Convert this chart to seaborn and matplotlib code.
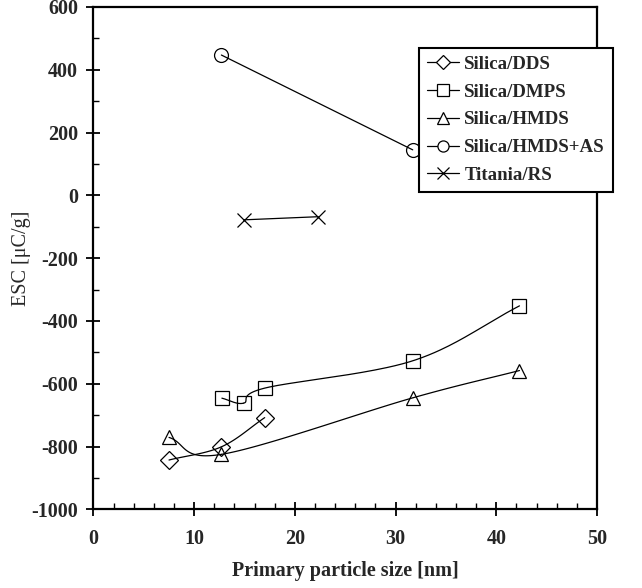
import numpy as np
import matplotlib
matplotlib.use("Agg")
import matplotlib.pyplot as plt
from matplotlib.lines import Line2D
from matplotlib.ticker import MultipleLocator
import seaborn as sns
import pandas as pd

# ---- data ----
dds_x = [7.5, 12.7, 17.0]
dds_y = [-843, -801, -708]

dmps_x = [12.75, 14.9, 17.0, 31.7, 42.3]
dmps_y = [-646, -662, -614, -527, -352]

hmds_x = [7.5, 12.7, 31.7, 42.3]
hmds_y = [-771, -825, -645, -558]

hmdsas_x = [12.7, 31.7]
hmdsas_y = [447, 145]

titania_x = [14.9, 22.3]
titania_y = [-78, -68]

series_names = ["Silica/DDS", "Silica/DMPS", "Silica/HMDS", "Silica/HMDS+AS", "Titania/RS"]
series_x = [dds_x, dmps_x, hmds_x, hmdsas_x, titania_x]
series_y = [dds_y, dmps_y, hmds_y, hmdsas_y, titania_y]
series_markers = ["D", "s", "^", "o", "x"]
series_msize = [9, 10, 10, 10, 10]

x_ticks = [0, 10, 20, 30, 40, 50]
y_ticks = [-1000, -800, -600, -400, -200, 0, 200, 400, 600]


def smooth(xs, ys, n=40):
    """Catmull-Rom curve through the given points (line styling only)."""
    p = np.column_stack([xs, ys]).astype(float)
    if len(p) < 3:
        return p[:, 0], p[:, 1]
    sy = 1.0 / 31.4
    q = p.copy()
    q[:, 1] = q[:, 1] * sy
    ext = np.vstack([2 * q[0] - q[1], q, 2 * q[-1] - q[-2]])
    out = []
    for i in range(1, len(ext) - 2):
        p0, p1, p2, p3 = ext[i - 1], ext[i], ext[i + 1], ext[i + 2]
        t = np.linspace(0, 1, n)[:, None]
        seg = 0.5 * ((2 * p1) + (-p0 + p2) * t + (2 * p0 - 5 * p1 + 4 * p2 - p3) * t ** 2
                     + (-p0 + 3 * p1 - 3 * p2 + p3) * t ** 3)
        out.append(seg)
    out = np.vstack(out)
    out[:, 1] = out[:, 1] / sy
    return out[:, 0], out[:, 1]


sns.set_theme(style="ticks")
plt.rcParams["font.family"] = ["Liberation Serif", "DejaVu Serif"]
plt.rcParams["axes.unicode_minus"] = False

FS = 14.5
LFS = 13.6

fig = plt.figure(figsize=(6.42, 5.88), dpi=100)
ax = fig.add_axes([93.5 / 642, 1 - 509.3 / 588, (597 - 93.5) / 642, (509.3 - 7) / 588])

rows = []
for name, xs, ys in zip(series_names, series_x, series_y):
    for x, y in zip(xs, ys):
        rows.append({"series": name, "x": x, "y": y})
df = pd.DataFrame(rows)

handles = []
for name, xs, ys, mk, ms in zip(series_names, series_x, series_y, series_markers, series_msize):
    cx, cy = smooth(xs, ys)
    ax.plot(cx, cy, color="black", lw=0.9, zorder=2)
    sub = df[df["series"] == name]
    sns.lineplot(data=sub, x="x", y="y", ax=ax, marker=mk, markersize=ms, linestyle="none",
                 color="black", markerfacecolor="none" if mk != "x" else "black",
                 markeredgecolor="black", markeredgewidth=0.9, zorder=3, legend=False,
                 estimator=None, sort=False)
    handles.append(Line2D([0], [0], color="black", lw=0.9, marker=mk,
                          markersize=ms * 0.8, markerfacecolor="white" if mk != "x" else "black",
                          markeredgecolor="black", markeredgewidth=0.9))

ax.set_xlim(0, 50)
ax.set_ylim(-1000, 600)
ax.set_xticks(x_ticks)
ax.set_yticks(y_ticks)
ax.xaxis.set_minor_locator(MultipleLocator(2))
ax.yaxis.set_minor_locator(MultipleLocator(100))
ax.tick_params(which="major", direction="inout", length=10, width=1.3, color="black",
               labelsize=FS)
ax.tick_params(axis="x", which="major", pad=9)
ax.tick_params(axis="y", which="major", pad=6)
ax.tick_params(which="minor", direction="in", length=4, width=1.0, color="black")
ax.tick_params(top=False, right=False, which="both")
for lab in ax.get_xticklabels() + ax.get_yticklabels():
    lab.set_fontweight("bold")
for sp in ax.spines.values():
    sp.set_visible(True)
    sp.set_color("black")
    sp.set_linewidth(1.6)

ax.set_xlabel("Primary particle size [nm]", fontsize=FS, fontweight="bold", labelpad=8.5)
ax.set_ylabel("ESC [\u03bcC/g]", fontsize=FS, fontweight="normal", labelpad=0)

leg = fig.legend(handles, series_names, loc="upper left",
                 bbox_to_anchor=(419 / 642, 1 - 48 / 588),
                 frameon=True, fancybox=False, shadow=False, framealpha=1,
                 edgecolor="black", prop={"family": "Liberation Serif", "weight": "bold", "size": LFS},
                 handlelength=1.7, handletextpad=0.3, labelspacing=0.56, borderpad=0.4,
                 borderaxespad=0)
leg.get_frame().set_linewidth(1.5)

fig.savefig("out.png", dpi=100)
